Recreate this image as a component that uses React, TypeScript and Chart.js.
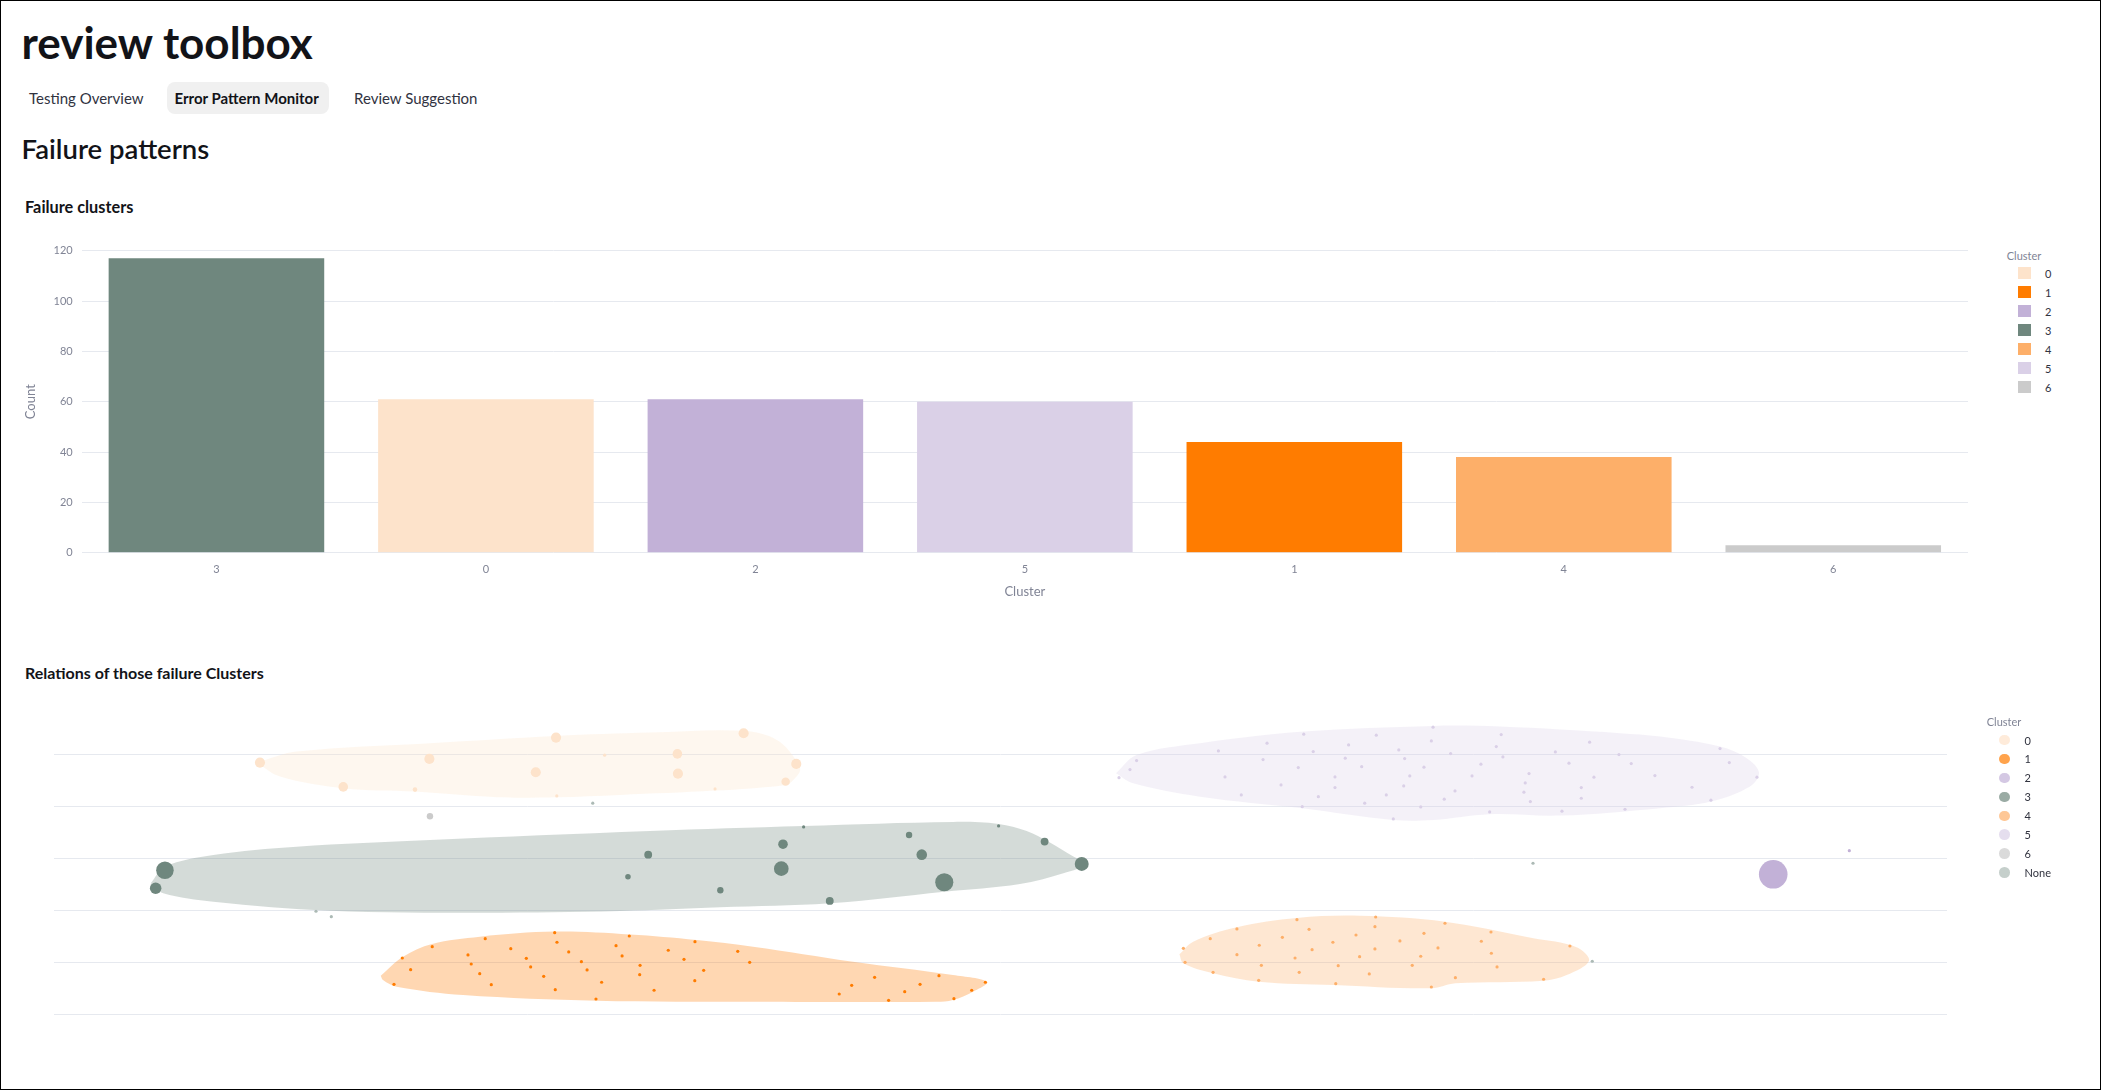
import React, { useEffect, useRef } from "react";
import { Chart, registerables } from "chart.js";

Chart.register(...registerables);

const FONT = "Lato, 'Noto Sans', sans-serif";
const TEXT = "#31333f";
const HEAD = "#121318";
const AXIS_TEXT = "#808495";
const GRID = "#e6e9ef";

// ---------- Bar chart data ----------
const barCategories = ["3", "0", "2", "5", "1", "4", "6"];
const barCounts = [117, 61, 61, 60, 44, 38, 3];
const barTickValues = [0, 20, 40, 60, 80, 100, 120];

// ---------- Cluster palette ----------
const clusterIds = ["0", "1", "2", "3", "4", "5", "6"];
const clusterColors = ["#fde3cb", "#ff7c00", "#c2b1d7", "#6f877e", "#fdaf69", "#dad0e7", "#cbcbcb"];
const noneColor = "#acbab5";
const scatterLegendIds = ["0", "1", "2", "3", "4", "5", "6", "None"];

// ---------- Scatter (embedding) data ----------
const scatterGridValues = [0, 10, 20, 30, 40, 50];

const cluster0Points = [
  [10.88, 48.52], [15.28, 43.83], [19.83, 49.23], [19.07, 43.31], [25.45, 46.66], [26.52, 53.33], [26.56, 42.1],
  [29.09, 49.94], [36.43, 54.18], [32.93, 50.19], [32.96, 46.39], [39.21, 48.26], [38.65, 44.85], [34.92, 43.45],
];
const cluster0Weights = [10, 9, 10, 2, 10, 10, 1, 1, 10, 9, 10, 10, 7, 1];

const cluster1Points = [
  [18.4, 10.87], [18.84, 8.62], [17.96, 5.8], [19.98, 13.05], [22.78, 14.59], [21.87, 11.45], [22.04, 9.71],
  [22.49, 7.84], [23.1, 5.72], [24.13, 12.66], [24.95, 10.81], [25.18, 9.14], [25.87, 7.34], [26.45, 15.75],
  [26.57, 13.9], [27.19, 12.03], [26.48, 4.76], [27.86, 10.16], [28.16, 8.56], [28.93, 6.19], [28.63, 2.97],
  [29.69, 13.24], [30.39, 15.11], [30.01, 11.26], [30.96, 9.46], [30.94, 7.65], [31.7, 4.65], [32.45, 12.36],
  [33.28, 10.62], [33.86, 14.01], [34.32, 8.5], [33.85, 6.5], [36.12, 12.16], [36.75, 10.04], [41.48, 3.93],
  [42.14, 5.61], [43.35, 7.15], [44.09, 2.72], [44.94, 4.38], [45.75, 5.8], [46.75, 7.46], [47.54, 3.03],
  [48.48, 4.65], [49.2, 6.19],
];

const cluster2Points = [[90.82, 27.0], [94.84, 31.55]];
const cluster2Weights = [80, 1];

const cluster3Points = [
  [5.86, 27.78], [5.37, 24.31], [30.32, 26.54], [31.39, 30.78], [35.2, 23.92], [38.51, 32.79], [38.42, 28.08],
  [39.6, 36.12], [40.98, 21.86], [45.17, 34.58], [45.84, 30.78], [47.03, 25.46], [49.9, 36.31], [52.33, 33.29],
  [54.29, 28.99],
];
const cluster3Weights = [30, 13, 3, 6, 4, 9, 21, 1, 6, 4, 11, 32, 1, 6, 19];

const cluster4Points = [
  [59.66, 12.74], [59.75, 10.04], [61.08, 14.59], [61.23, 8.11], [62.49, 16.46], [62.49, 11.51], [63.67, 13.32],
  [63.78, 9.46], [63.64, 6.57], [64.89, 14.86], [65.66, 18.25], [65.56, 10.87], [65.78, 8.11], [66.3, 16.4],
  [66.46, 12.47], [67.56, 13.9], [67.84, 9.39], [67.71, 5.92], [68.78, 15.3], [68.97, 11.12], [69.48, 7.79],
  [69.82, 18.77], [69.78, 16.9], [69.78, 12.61], [71.1, 14.15], [71.75, 9.46], [72.2, 11.2], [72.37, 15.63],
  [72.76, 5.28], [73.11, 12.8], [73.48, 17.56], [74.03, 7.07], [75.4, 14.09], [75.91, 15.88], [75.93, 11.78],
  [76.23, 9.14], [78.69, 6.77], [80.08, 13.18],
];

const cluster5Points = [
  [56.26, 45.62], [56.84, 47.17], [57.19, 48.9], [61.51, 50.77], [61.86, 45.76], [62.72, 42.29], [63.87, 49.09],
  [64.08, 52.25], [64.82, 44.22], [65.73, 47.55], [65.94, 40.03], [66.02, 53.99], [66.52, 50.64], [66.79, 41.96],
  [67.67, 45.76], [67.67, 43.7], [68.21, 49.36], [68.39, 51.93], [69.08, 47.74], [69.24, 40.69], [69.85, 53.8],
  [70.38, 42.29], [70.75, 37.66], [71.04, 50.96], [71.3, 44.02], [71.35, 49.29], [71.62, 45.95], [72.2, 39.98],
  [72.37, 47.63], [72.76, 52.7], [72.85, 55.34], [73.44, 41.46], [73.78, 50.25], [74.01, 43.06], [74.91, 45.95],
  [75.38, 48.21], [75.84, 39.01], [76.19, 51.6], [76.45, 53.91], [76.54, 49.61], [77.65, 42.81], [77.72, 44.6],
  [77.92, 46.4], [77.99, 41.0], [79.31, 50.58], [79.66, 39.15], [80.03, 48.4], [80.68, 43.7], [80.68, 41.65],
  [81.12, 52.45], [81.35, 45.7], [82.67, 50.06], [83.32, 48.32], [82.99, 39.53], [84.57, 46.01], [86.53, 43.77],
  [87.53, 41.27], [88.01, 51.21], [88.5, 48.52], [89.96, 45.7],
];

const cluster6Points = [[19.86, 38.18]];
const cluster6Weights = [4];

const nonePoints = [[28.46, 40.69], [13.84, 19.87], [14.65, 18.83], [78.13, 29.12], [81.26, 10.24]];

// cluster outlines (hull vertices)
const cluster0Hull = [
  [10.71, 48.52], [12.82, 50.64], [19.86, 52.25], [26.52, 53.66], [31.48, 54.3], [36.43, 54.63], [38.18, 52.89],
  [39.21, 49.04], [39.42, 47.11], [39.05, 45.18], [38.65, 44.22], [34.92, 43.12], [29.9, 42.29], [26.56, 41.85],
  [23.39, 41.85], [19.07, 42.93], [15.28, 43.58], [11.94, 45.82],
];
const cluster3Hull = [
  [5.11, 25.27], [5.86, 28.47], [8.42, 30.72], [12.82, 32.32], [19.86, 33.62], [31.48, 35.35], [39.6, 36.31],
  [47.51, 37.09], [49.9, 36.7], [51.38, 35.35], [52.61, 33.1], [53.85, 30.4], [54.55, 28.99], [53.32, 27.2],
  [51.03, 25.14], [47.03, 23.65], [40.98, 21.41], [35.18, 20.64], [29.9, 19.93], [22.5, 19.6], [14.58, 19.99],
  [8.42, 21.72], [5.77, 23.34],
];
const cluster1Hull = [
  [17.26, 7.46], [18.44, 11.12], [19.97, 13.57], [22.5, 14.98], [26.45, 15.95], [30.43, 15.4], [33.95, 14.34],
  [36.93, 13.05], [42.21, 10.16], [47.49, 7.59], [49.29, 6.25], [48.55, 4.38], [47.49, 2.78], [46.63, 2.45],
  [36.93, 2.45], [28.67, 2.64], [21.61, 3.74], [18.1, 5.34], [17.38, 6.63],
];
const cluster4Hull = [
  [59.45, 11.58], [60.18, 14.01], [62.49, 16.79], [65.66, 18.58], [68.99, 19.0], [73.48, 17.87], [78.15, 14.67],
  [80.4, 13.0], [81.09, 10.35], [79.91, 7.59], [78.69, 6.5], [74.03, 5.99], [72.76, 5.03], [67.58, 5.67],
  [63.64, 6.3], [61.23, 7.92], [59.66, 9.85],
];
const cluster5Hull = [
  [56.1, 46.47], [57.19, 50.0], [60.54, 52.25], [66.02, 54.49], [72.86, 55.59], [76.39, 55.45], [82.73, 54.18],
  [84.84, 53.53], [88.01, 51.6], [89.42, 49.36], [90.07, 46.59], [89.59, 43.89], [87.53, 41.0], [84.84, 39.73],
  [79.56, 38.3], [75.84, 38.57], [72.86, 37.47], [70.75, 37.47], [65.94, 39.73], [60.54, 41.96], [57.01, 44.54],
];

// ---------- helpers ----------
const colorOf = (id: string) => (id === "None" ? noneColor : clusterColors[clusterIds.indexOf(id)]);
const withAlpha = (hex: string, a: number) => {
  const n = parseInt(hex.slice(1), 16);
  return `rgba(${(n >> 16) & 255},${(n >> 8) & 255},${n & 255},${a})`;
};

const hullGroups = [
  { id: "0", hull: cluster0Hull },
  { id: "3", hull: cluster3Hull },
  { id: "1", hull: cluster1Hull },
  { id: "4", hull: cluster4Hull },
  { id: "5", hull: cluster5Hull },
];
const pointGroups = [
  { id: "0", pts: cluster0Points, w: cluster0Weights },
  { id: "1", pts: cluster1Points, w: null },
  { id: "2", pts: cluster2Points, w: cluster2Weights },
  { id: "3", pts: cluster3Points, w: cluster3Weights },
  { id: "4", pts: cluster4Points, w: null },
  { id: "5", pts: cluster5Points, w: null },
  { id: "6", pts: cluster6Points, w: cluster6Weights },
  { id: "None", pts: nonePoints, w: null },
];

function BarChart() {
  const ref = useRef<HTMLCanvasElement>(null);
  useEffect(() => {
    const chart = new Chart(ref.current as HTMLCanvasElement, {
      type: "bar",
      data: {
        labels: barCategories,
        datasets: [
          {
            data: barCounts,
            backgroundColor: barCategories.map(colorOf),
            borderWidth: 0,
            categoryPercentage: 0.8,
            barPercentage: 1,
          },
        ],
      },
      options: {
        animation: false,
        responsive: false,
        devicePixelRatio: 1,
        layout: { autoPadding: false, padding: { left: 0, right: 22, top: 20.7, bottom: 20.3 } },
        plugins: { legend: { display: false }, tooltip: { enabled: false } },
        scales: {
          x: {
            grid: { display: false, drawTicks: false },
            border: { display: false },
            ticks: { color: AXIS_TEXT, font: { family: FONT, size: 11 }, padding: 10.5 },
            title: { display: true, text: "Cluster", color: AXIS_TEXT, font: { family: FONT, size: 13 }, padding: 0 },
            afterFit: (s: any) => {
              s.height = 47;
            },
          },
          y: {
            min: 0,
            max: 120,
            grid: { color: GRID, drawTicks: false },
            border: { display: false },
            afterBuildTicks: (s: any) => {
              s.ticks = barTickValues.map((v) => ({ value: v }));
            },
            ticks: { color: AXIS_TEXT, font: { family: FONT, size: 11 }, padding: 9 },
            title: {
              display: true,
              text: "Count",
              color: AXIS_TEXT,
              font: { family: FONT, size: 13 },
              padding: { top: 22.7, bottom: 0 },
            },
            afterFit: (s: any) => {
              s.width = 81.7;
            },
          },
        },
      },
    } as any);
    return () => chart.destroy();
  }, []);
  return (
    <canvas
      ref={ref}
      width={1990}
      height={390}
      style={{ position: "absolute", left: 0, top: 230, width: 1990, height: 390, display: "block" }}
    />
  );
}

function ScatterChart() {
  const ref = useRef<HTMLCanvasElement>(null);
  useEffect(() => {
    const pointSets = pointGroups.map((g) => ({
      type: "bubble",
      data: g.pts.map((p, i) => ({ x: p[0], y: p[1], r: 1.6 * Math.sqrt(g.w ? g.w[i] : 1) })),
      backgroundColor: colorOf(g.id),
      borderWidth: 0,
      hoverRadius: 0,
      order: 0,
    }));
    const hullSets = hullGroups.map((h) => ({
      type: "scatter",
      data: [...h.hull, h.hull[0]].map((p) => ({ x: p[0], y: p[1] })),
      showLine: true,
      fill: "shape",
      tension: 0.35,
      pointRadius: 0,
      borderWidth: 0,
      borderColor: "rgba(0,0,0,0)",
      backgroundColor: withAlpha(colorOf(h.id), 0.3),
      order: 1,
    }));
    const chart = new Chart(ref.current as HTMLCanvasElement, {
      type: "scatter",
      data: { datasets: [...pointSets, ...hullSets] },
      options: {
        animation: false,
        responsive: false,
        devicePixelRatio: 1,
        layout: { autoPadding: false, padding: { left: 54, right: 43, top: 13, bottom: 3.7 } },
        plugins: { legend: { display: false }, tooltip: { enabled: false } },
        scales: {
          x: { type: "linear", min: 0, max: 100, display: false },
          y: {
            type: "linear",
            min: -10,
            max: 60,
            grid: { color: GRID, drawTicks: false },
            border: { display: false },
            ticks: { display: false },
            afterBuildTicks: (s: any) => {
              s.ticks = scatterGridValues.map((v) => ({ value: v }));
            },
            afterFit: (s: any) => {
              s.width = 0;
            },
          },
        },
      },
    } as any);
    return () => chart.destroy();
  }, []);
  return (
    <canvas
      ref={ref}
      width={1990}
      height={380}
      style={{ position: "absolute", left: 0, top: 690, width: 1990, height: 380, display: "block" }}
    />
  );
}

const abs = (left: number, top: number, extra: React.CSSProperties = {}): React.CSSProperties => ({
  position: "absolute",
  left,
  top,
  whiteSpace: "nowrap",
  lineHeight: 1,
  fontFamily: FONT,
  ...extra,
});

function BarLegend() {
  return (
    <>
      <div style={abs(2006.7, 249.5, { fontSize: 11, color: AXIS_TEXT })}>Cluster</div>
      {clusterIds.map((id, i) => (
        <div key={id} style={abs(2018.3, 273.3 + i * 18.95 - 7, { height: 14, display: "flex", alignItems: "center" })}>
          <div style={{ width: 12.4, height: 12, background: colorOf(id) }} />
          <div style={{ marginLeft: 14.3, fontSize: 11, color: TEXT }}>{id}</div>
        </div>
      ))}
    </>
  );
}

function ScatterLegend() {
  return (
    <>
      <div style={abs(1986.7, 715.5, { fontSize: 11, color: AXIS_TEXT })}>Cluster</div>
      {scatterLegendIds.map((id, i) => (
        <div key={id} style={abs(1999, 740 + i * 18.95 - 7, { height: 14, display: "flex", alignItems: "center" })}>
          <div style={{ width: 10.6, height: 10.6, borderRadius: "50%", background: colorOf(id), opacity: 0.7 }} />
          <div style={{ marginLeft: 15, fontSize: 11, color: TEXT }}>{id}</div>
        </div>
      ))}
    </>
  );
}

export default function App() {
  return (
    <div
      style={{
        position: "fixed",
        left: 0,
        top: 0,
        width: 2102,
        height: 1090,
        background: "#ffffff",
        overflow: "hidden",
        fontFamily: FONT,
      }}
    >
      <div style={abs(21.5, 20, { fontSize: 44, fontWeight: 700, color: HEAD })}>review toolbox</div>

      <div style={{ position: "absolute", left: 167, top: 82, width: 162, height: 32, borderRadius: 8, background: "#f0f0f0" }} />
      <div style={abs(29, 91, { fontSize: 15, color: TEXT })}>Testing Overview</div>
      <div style={abs(174.5, 91, { fontSize: 15, fontWeight: 700, color: HEAD })}>Error Pattern Monitor</div>
      <div style={abs(354, 91, { fontSize: 15, color: TEXT })}>Review Suggestion</div>

      <div style={abs(21.5, 135, { fontSize: 27.5, fontWeight: 600, color: HEAD })}>Failure patterns</div>
      <div style={abs(25, 198.5, { fontSize: 16.3, fontWeight: 700, color: HEAD })}>Failure clusters</div>

      <BarChart />
      <BarLegend />

      <div style={abs(25, 664.8, { fontSize: 16, fontWeight: 700, color: HEAD })}>Relations of those failure Clusters</div>

      <ScatterChart />
      <ScatterLegend />

      <div
        style={{
          position: "absolute",
          left: 0,
          top: 0,
          width: 2101,
          height: 1090,
          border: "1px solid #000",
          boxSizing: "border-box",
          pointerEvents: "none",
        }}
      />
    </div>
  );
}
